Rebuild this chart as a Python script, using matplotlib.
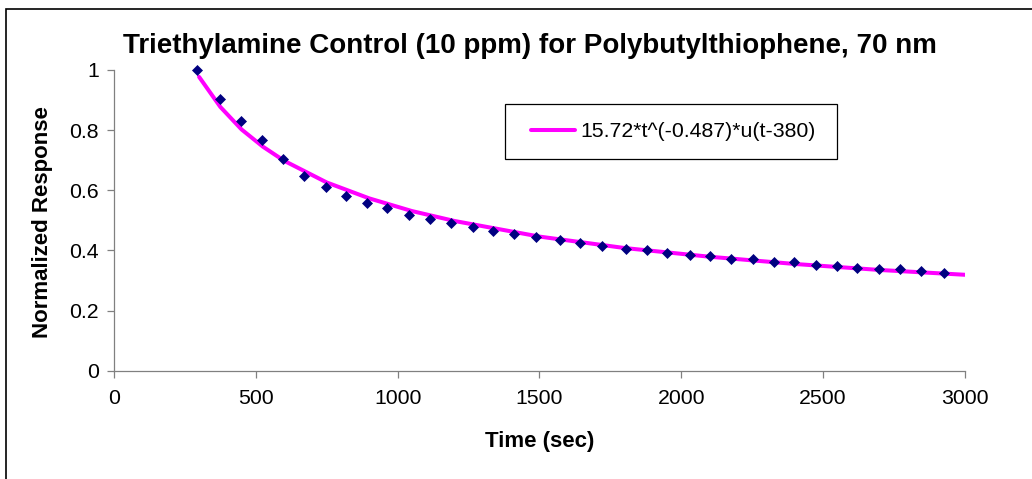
import matplotlib
matplotlib.use("Agg")
import matplotlib.pyplot as plt
from matplotlib.patches import Rectangle

plt.rcParams['font.family'] = ['Liberation Sans', 'DejaVu Sans']

# measured points (sec, normalized response)
time_sec = [294, 374, 447, 523, 596, 669, 748, 819, 891, 964,
            1041, 1114, 1187, 1265, 1338, 1411, 1488, 1573, 1644, 1722,
            1807, 1880, 1951, 2030, 2103, 2175, 2253, 2326, 2398, 2477,
            2549, 2621, 2699, 2772, 2845, 2927]
response = [1.0, 0.903, 0.831, 0.767, 0.705, 0.648, 0.610, 0.580, 0.558, 0.540,
            0.517, 0.506, 0.490, 0.477, 0.466, 0.456, 0.444, 0.433, 0.426, 0.416,
            0.404, 0.403, 0.393, 0.386, 0.381, 0.370, 0.370, 0.360, 0.360, 0.353,
            0.348, 0.341, 0.337, 0.337, 0.331, 0.324]

# fit curve
fit_t = [300, 375, 450, 525, 600, 750, 900, 1050, 1200, 1500, 1800, 2100, 2400, 2700, 3000]
fit_y = [0.977, 0.877, 0.802, 0.745, 0.698, 0.626, 0.573, 0.531, 0.498, 0.446,
         0.408, 0.379, 0.355, 0.335, 0.319]
fit_label = "15.72*t^(-0.487)*u(t-380)"

x_ticks = [0, 500, 1000, 1500, 2000, 2500, 3000]
y_ticks = [0, 0.2, 0.4, 0.6, 0.8, 1]
y_ticklabels = ["0", "0.2", "0.4", "0.6", "0.8", "1"]

fig = plt.figure(figsize=(10.32, 4.79), dpi=100)
ax = fig.add_axes([0.1105, 0.2261, 0.8243, 0.6278])

ax.plot(fit_t, fit_y, color="#FF00FF", lw=2.9, label=fit_label, zorder=2,
        solid_capstyle="round")
ax.plot(time_sec, response, linestyle="none", marker="D", ms=5.6,
        color="#000080", mec="#000080", mew=0.5, zorder=3, clip_on=False)

ax.set_xlim(0, 3000)
ax.set_ylim(0, 1)
ax.set_xticks(x_ticks)
ax.set_xticklabels([str(v) for v in x_ticks])
ax.set_yticks(y_ticks)
ax.set_yticklabels(y_ticklabels)

for s in ["top", "right"]:
    ax.spines[s].set_visible(False)
for s in ["left", "bottom"]:
    ax.spines[s].set_color("#808080")
    ax.spines[s].set_linewidth(0.9)

ax.tick_params(axis="both", direction="out", length=5, width=0.9,
               color="#808080", labelsize=15.3, labelcolor="black")
ax.tick_params(axis="x", pad=8.5)
ax.tick_params(axis="y", pad=6)

ax.set_xlabel("Time (sec)", fontsize=16, fontweight="bold", va="center")
ax.xaxis.set_label_coords(0.5, -0.234)
ax.set_ylabel("Normalized Response", fontsize=16, fontweight="bold",
              va="center", ha="center")
ax.yaxis.set_label_coords(-0.084, 0.494)

fig.text(530 / 1032, 1 - 53 / 479, "Triethylamine Control (10 ppm) for Polybutylthiophene, 70 nm",
         fontsize=20, fontweight="bold", ha="center", va="baseline")

# legend frame + legend
ax.add_patch(Rectangle((0.4596, 0.704), 0.3903, 0.183, transform=ax.transAxes,
                       facecolor="white", edgecolor="black", lw=0.9,
                       clip_on=False, zorder=4))
leg = ax.legend(loc="center left", bbox_to_anchor=(0.4898, 0.7955),
                frameon=False, fontsize=15.3, handlelength=2.08,
                handletextpad=0.25, borderpad=0, borderaxespad=0)
leg.set_zorder(5)

# outer chart border (left/top visible)
fig.patches.append(Rectangle((6 / 1032, -0.1), 1.2, 1.1 - 9 / 479,
                             transform=fig.transFigure, fill=False,
                             edgecolor="black", lw=1.2))

fig.savefig("out.png", dpi=100)
